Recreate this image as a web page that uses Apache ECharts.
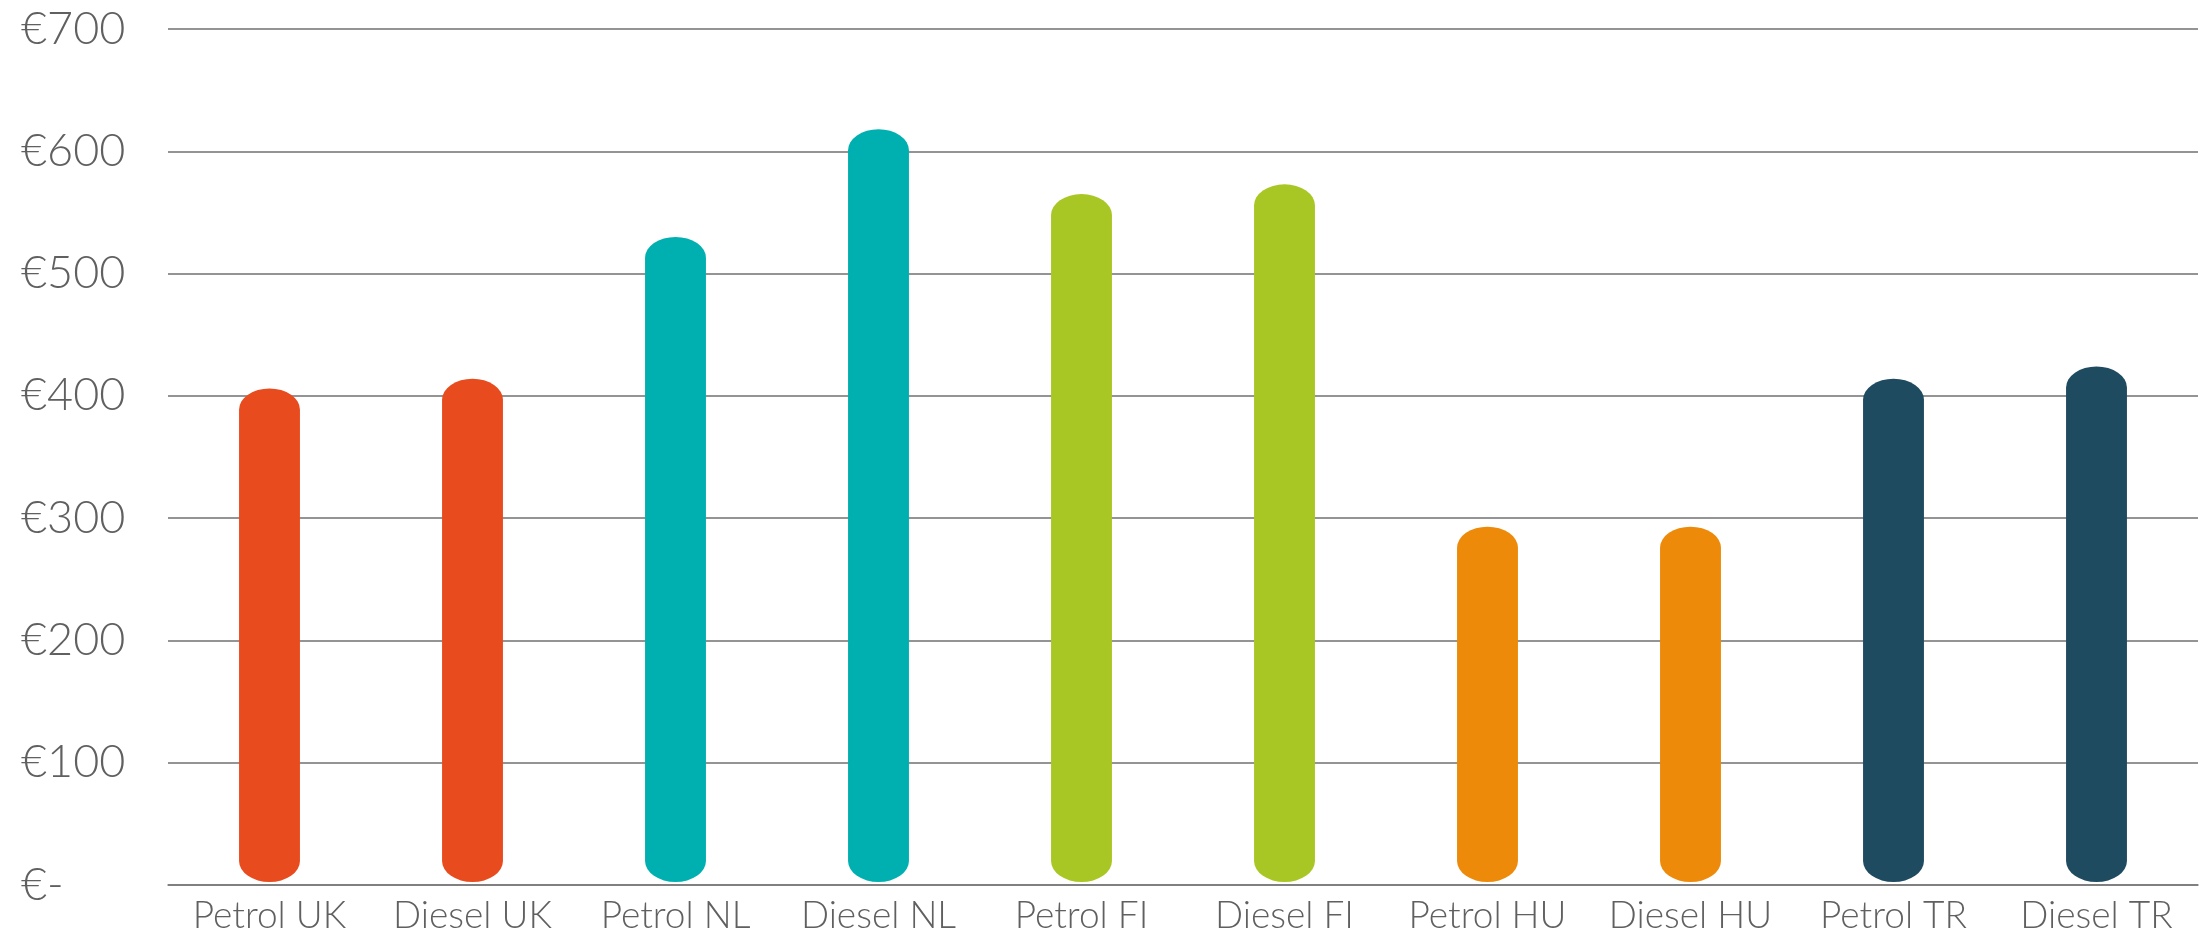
<!DOCTYPE html>
<html>
<head>
<meta charset="utf-8">
<script src="https://cdn.jsdelivr.net/npm/echarts@6/dist/echarts.min.js"></script>
<style>
html,body{margin:0;padding:0;background:#fff;}
#chart{width:2208px;height:942px;}
</style>
</head>
<body>
<div id="chart"></div>
<script>
const categories = ['Petrol UK','Diesel UK','Petrol NL','Diesel NL','Petrol FI','Diesel FI','Petrol HU','Diesel HU','Petrol TR','Diesel TR'];
const values = [406, 414, 530, 618, 565, 573, 293, 293, 414, 424];
const barColors = ['#E84C1E','#E84C1E','#00B0B1','#00B0B1','#A9C724','#A9C724','#EE8A0A','#EE8A0A','#1F4B61','#1F4B61'];
const yTicks = [0, 100, 200, 300, 400, 500, 600, 700];

const chart = echarts.init(document.getElementById('chart'), null, {renderer: 'canvas'});
const font = 'Lato, "Open Sans", sans-serif';

chart.setOption({
  backgroundColor: '#ffffff',
  animation: false,
  grid: {left: 168, right: 10, top: 29, bottom: 57},
  xAxis: {
    type: 'category',
    data: categories,
    axisLine: {show: true, lineStyle: {color: '#7a7a7a', width: 1.5}},
    axisTick: {show: false},
    axisLabel: {interval: 0, color: '#606060', fontSize: 37, fontWeight: 300, fontFamily: font, margin: 13}
  },
  yAxis: {
    type: 'value',
    min: yTicks[0],
    max: yTicks[yTicks.length - 1],
    interval: 100,
    axisLine: {show: false},
    axisTick: {show: false},
    splitLine: {show: true, lineStyle: {color: '#707070', width: 1.5}},
    axisLabel: {
      color: '#606060', fontSize: 45, fontWeight: 300, fontFamily: font,
      align: 'left', margin: 147,
      formatter: v => v === 0 ? '€-' : '€' + v
    }
  },
  series: [{
    type: 'custom',
    data: values.map((v, i) => [i, v]),
    encode: {x: 0, y: 1},
    renderItem: function (params, api) {
      const idx = api.value(0);
      const top = api.coord([idx, api.value(1)]);
      const base = api.coord([idx, 0]);
      const w = api.size([1, 0])[0] * 0.3;
      const rx = w / 2, ry = 21;
      const cx = top[0];
      const x0 = cx - rx, x1 = cx + rx;
      const yt = top[1] + ry;
      const yb = base[1] - 3 - ry;
      const d = 'M' + x0 + ' ' + yt +
        ' A' + rx + ' ' + ry + ' 0 0 1 ' + x1 + ' ' + yt +
        ' L' + x1 + ' ' + yb +
        ' A' + rx + ' ' + ry + ' 0 0 1 ' + x0 + ' ' + yb + ' Z';
      return {
        type: 'path',
        shape: {pathData: d},
        style: {fill: barColors[params.dataIndex]}
      };
    }
  }]
});
</script>
</body>
</html>
